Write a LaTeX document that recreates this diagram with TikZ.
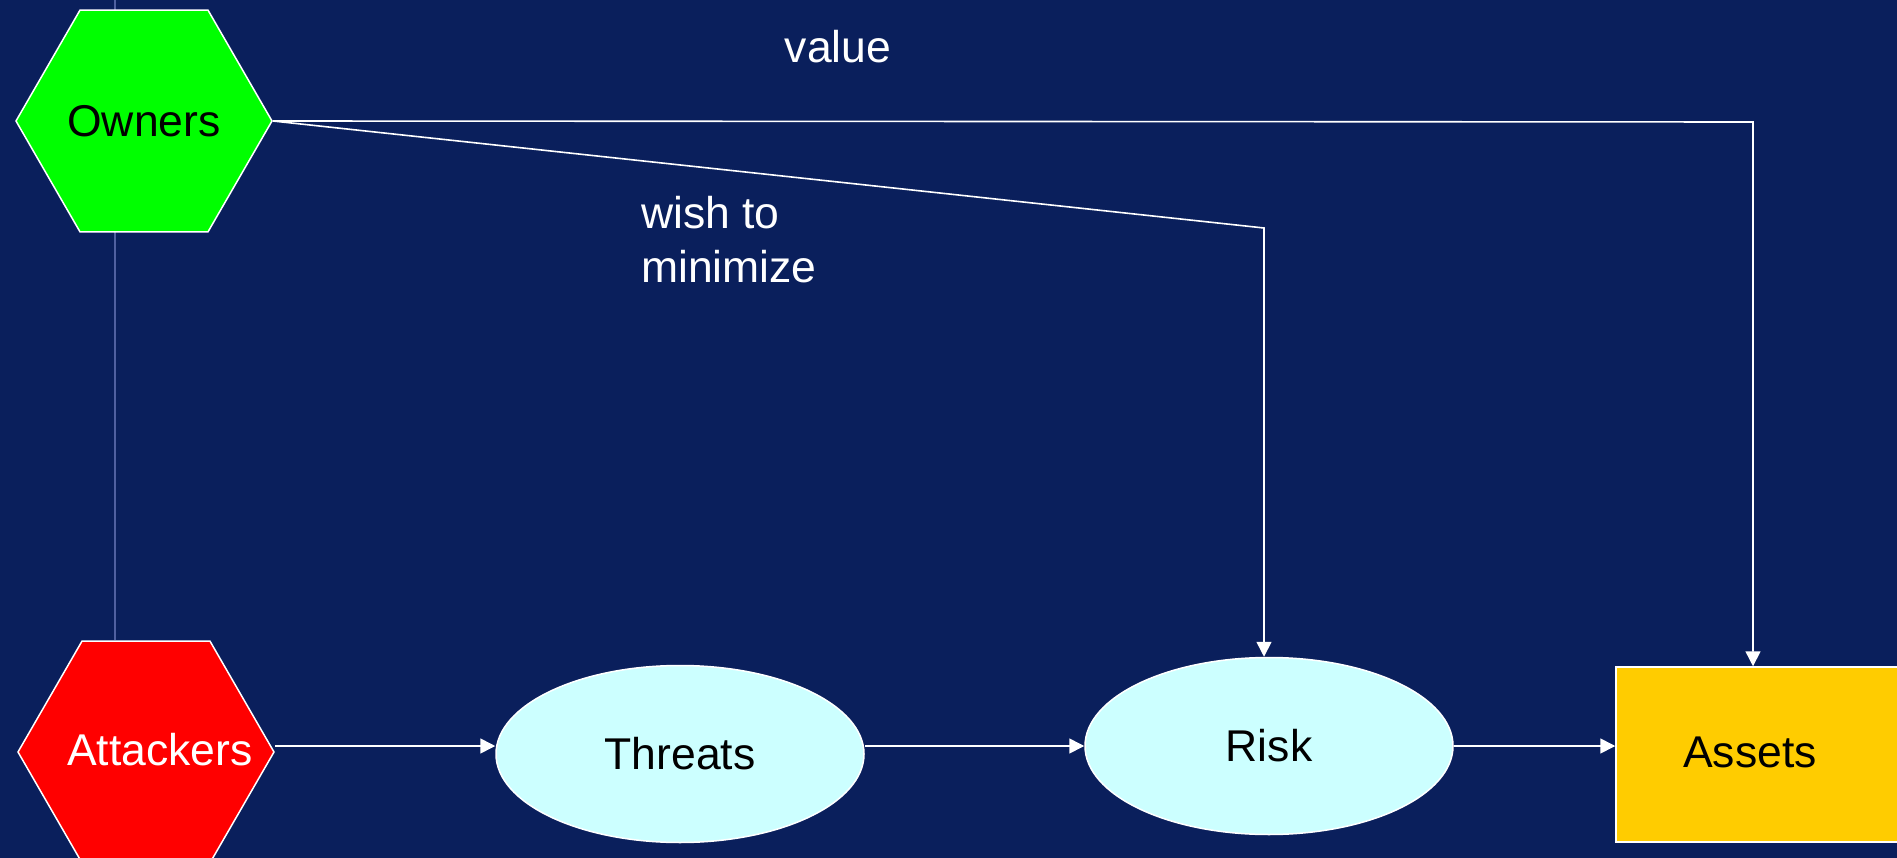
\documentclass[tikz,border=0pt]{standalone}
\usepackage{fontspec}
\setmainfont{Liberation Sans}
\usetikzlibrary{shapes.geometric,arrows.meta,backgrounds}
\definecolor{bgblue}{HTML}{0A1F5C}
\definecolor{guideblue}{HTML}{5060A0}
\definecolor{ownergreen}{HTML}{00FF00}
\definecolor{attackred}{HTML}{FF0000}
\definecolor{assetyellow}{HTML}{FFCC00}
\definecolor{ovalcyan}{HTML}{CCFFFF}
\tikzset{
  x=1pt, y=-1pt,
  bigtext/.style={font=\fontsize{44.5}{54}\selectfont},
  hexa/.style={regular polygon, regular polygon sides=6, minimum size=256pt,
    inner sep=0pt, draw=white, line width=1.5pt, bigtext},
  oval/.style={ellipse, minimum width=368pt, minimum height=177pt, inner sep=0pt,
    draw=white, line width=1.5pt, fill=ovalcyan, text=black, bigtext},
  conn/.style={draw=white, line width=1.6pt, -{Triangle[length=15pt,width=15pt]}},
  guide/.style={draw=guideblue, line width=2.5pt},
  lbl/.style={text=white, inner sep=0pt, bigtext}
}
\begin{document}
\begin{tikzpicture}
\useasboundingbox (0,0) rectangle (1897,858);
% nodes
\node[hexa, fill=ownergreen, text=black] (own) at (144,121) {Owners};
\node[hexa, fill=attackred] (att) at (146,752) {};
\node[lbl, anchor=center] (attlbl) at (160,750) {Attackers};
\node[oval] (thr) at (680,754) {Threats};
\node[oval] (ris) at (1269,746) {Risk};
\node[rectangle, draw=white, line width=1.5pt, fill=assetyellow, text=black, bigtext,
  minimum width=284pt, minimum height=175pt, inner sep=0pt] (ass) at (1758,754.5) {};
\node[text=black, bigtext, inner sep=0pt] (asslbl) at (1750,752) {Assets};
\node[lbl, anchor=base] (value) at (838,63) {value};
\node[lbl, anchor=north west, align=left] (wish) at (641,196) {wish to\\minimize};
% background
\begin{scope}[on background layer]
  \fill[bgblue] (0,0) rectangle (1897,858);
  \coordinate (vtop) at (115,0);
  \draw[guide] (vtop) -- (vtop |- att.north);
\end{scope}
% connectors
\coordinate (rcorner) at (1264,228);
\coordinate (acorner) at (1753,122);
\draw[conn] (own.east) -- (acorner) -- (acorner |- ass.north);
\draw[conn] (own.east) -- (rcorner) -- (rcorner |- ris.north);
\draw[conn] (att.east |- ris.west) -- (thr.west |- ris.west);
\draw[conn] (thr.east |- ris.west) -- (ris.west);
\draw[conn] (ris.east) -- (ris.east -| ass.west);
\end{tikzpicture}
\end{document}
